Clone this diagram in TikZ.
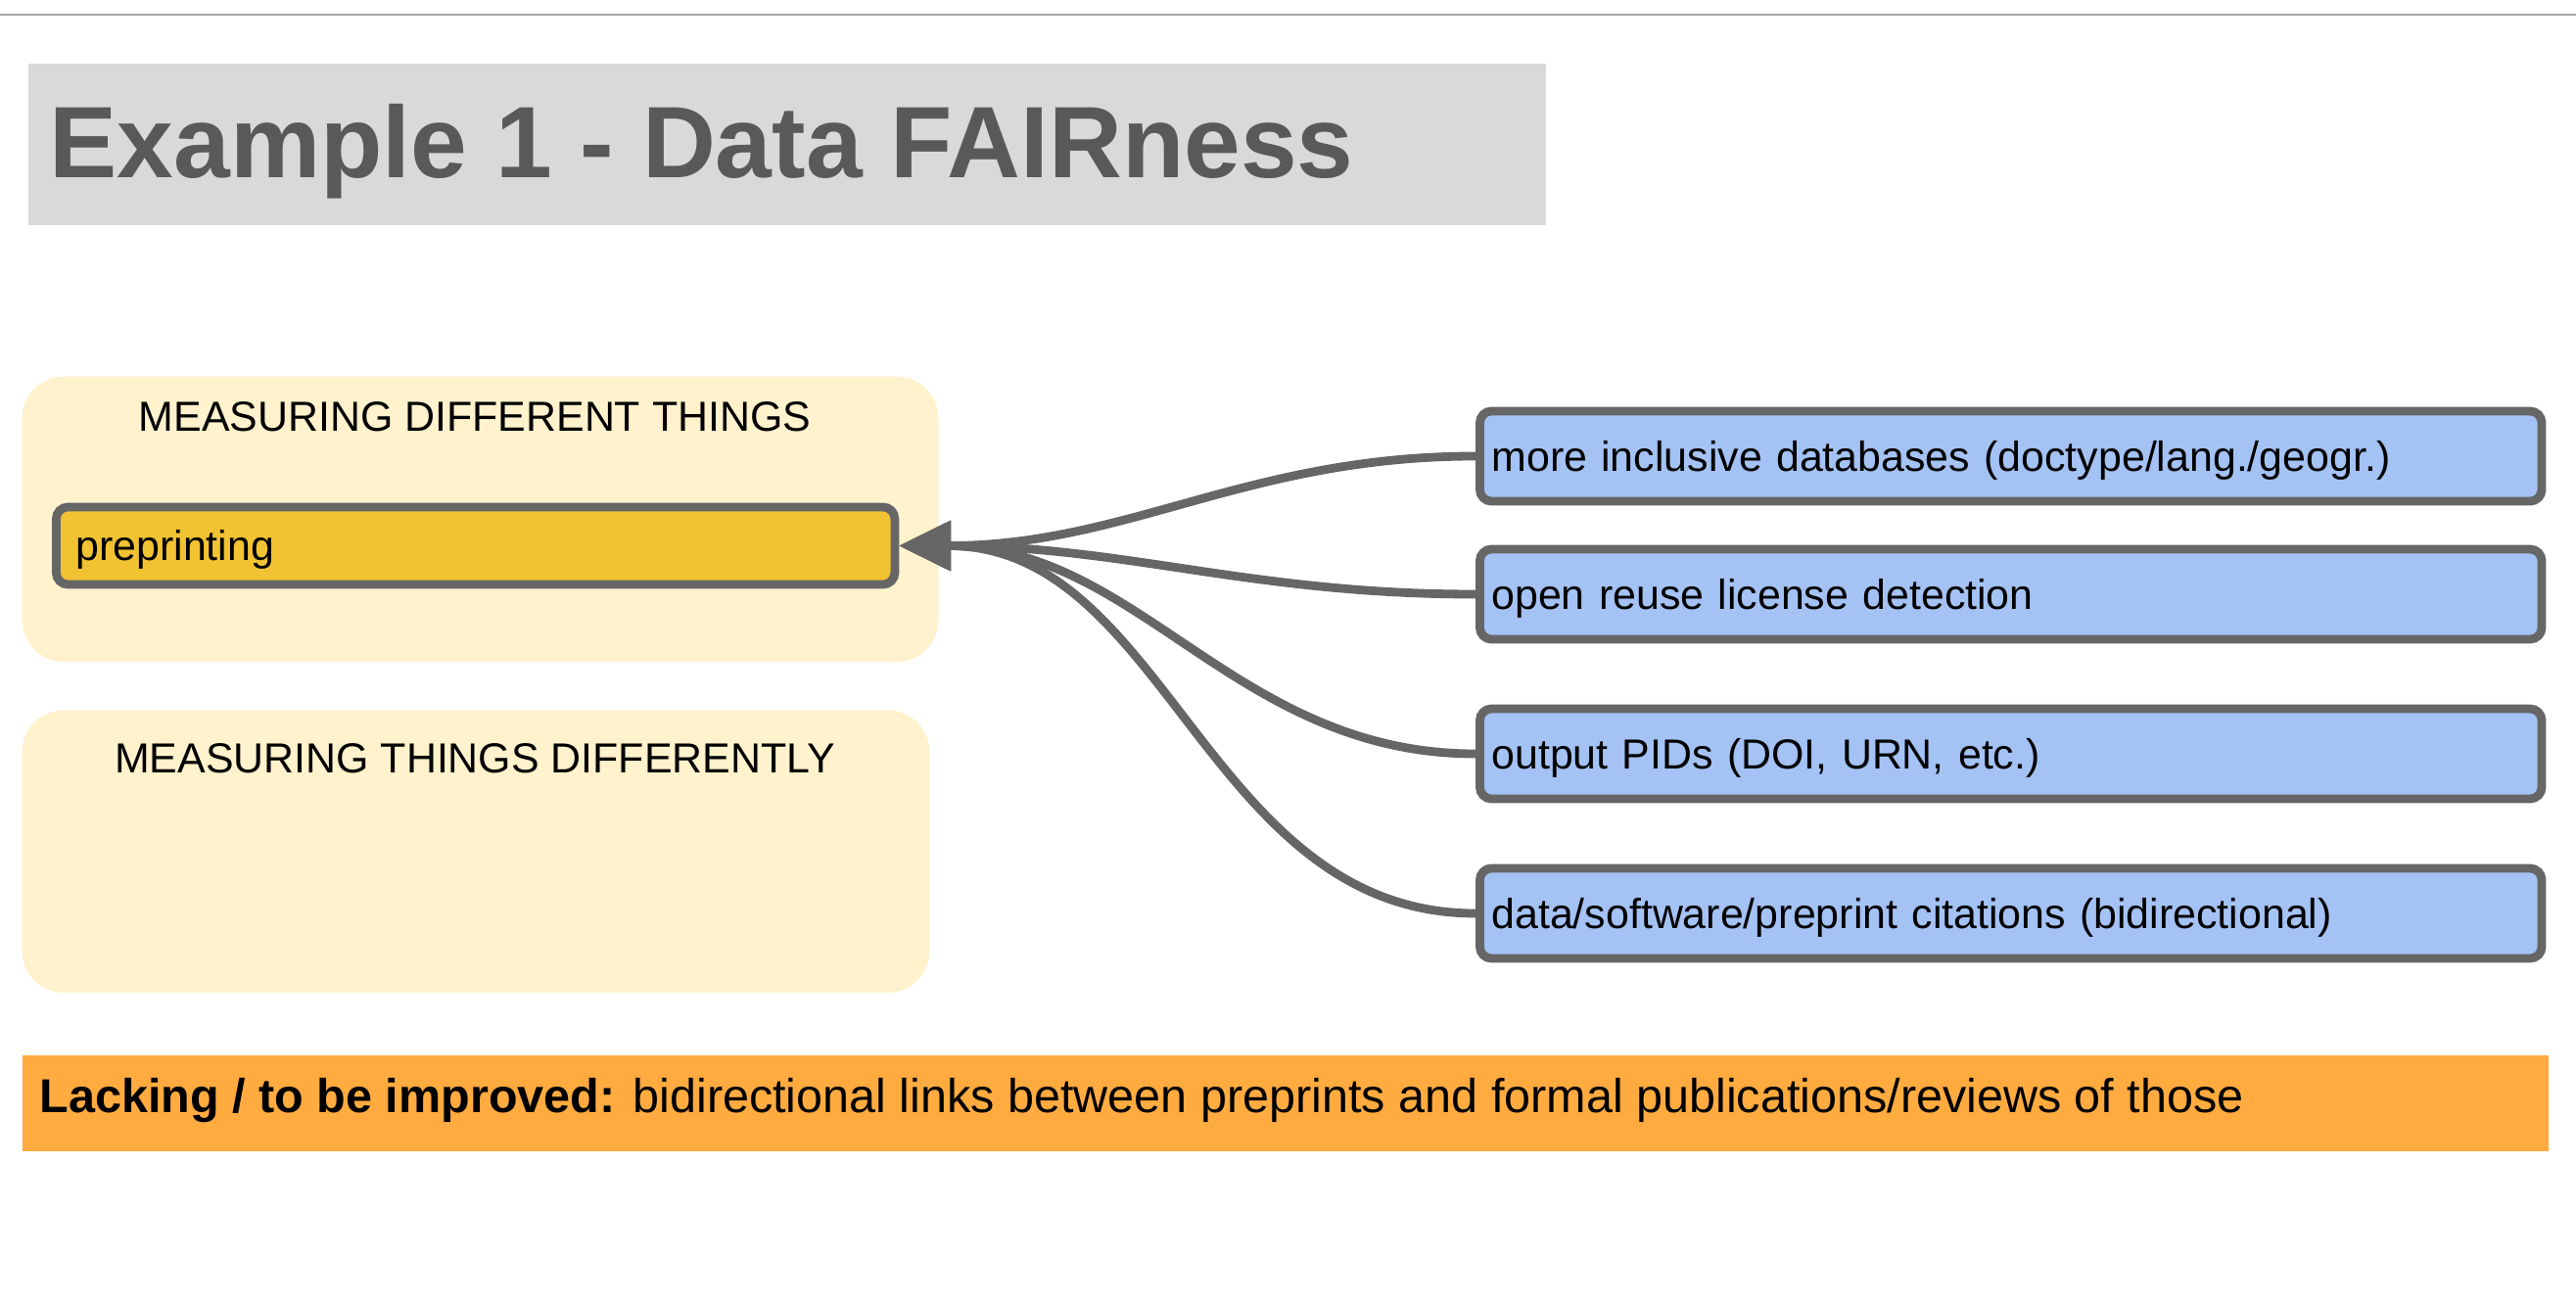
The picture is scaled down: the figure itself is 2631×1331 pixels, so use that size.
\documentclass[tikz,border=0pt]{standalone}
\usepackage{fontspec}
\setmainfont{Liberation Sans}
\usetikzlibrary{arrows.meta}
\definecolor{lineGray}{HTML}{666666}
\definecolor{titleBg}{HTML}{D9D9D9}
\definecolor{titleFg}{HTML}{595959}
\definecolor{grpBg}{HTML}{FFF2CC}
\definecolor{preFill}{HTML}{F1C232}
\definecolor{blueFill}{HTML}{A4C2F4}
\definecolor{barFill}{HTML}{FFAB40}
\definecolor{topLine}{HTML}{A6A6A6}
\tikzset{
  basefont/.style={font=\fontsize{12.2}{14}\selectfont},
  titlebox/.style={fill=titleBg, draw=none, inner sep=0pt},
  titletext/.style={text=titleFg, inner sep=0pt, font=\fontsize{29.5}{34}\selectfont\bfseries},
  grpbox/.style={fill=grpBg, draw=none, rounded corners=0.42cm, inner sep=0pt},
  grptitle/.style={basefont, inner sep=0pt},
  prebox/.style={basefont, fill=preFill, draw=lineGray, line width=2.5pt, rounded corners=0.12cm,
    minimum width=8.56cm, minimum height=0.79cm, inner xsep=0.2cm, text width=8.16cm, align=left,
    text height=0.88em, text depth=0em},
  bluebox/.style={basefont, fill=blueFill, draw=lineGray, line width=2.5pt, rounded corners=0.12cm,
    minimum width=10.84cm, minimum height=0.92cm, inner xsep=0.12cm, text width=10.6cm, align=left,
    text height=0.88em, text depth=0em, anchor=west},
  barbox/.style={fill=barFill, draw=none, inner sep=0pt},
  bartext/.style={font=\fontsize{13.8}{16}\selectfont, inner sep=0pt},
  conn/.style={draw=lineGray, line width=2.5pt, -{Triangle[length=15pt,width=14pt]}, fill=none}
}
\begin{document}
\begin{tikzpicture}[x=0.01cm,y=-0.01cm]
\useasboundingbox (0,0) rectangle (2631,1331);
\fill[white] (0,0) rectangle (2631,1331);
% top rule
\draw[topLine, line width=0.8pt] (0,15) -- (2631,15);
% title
\node[titlebox, minimum width=15.49cm, minimum height=1.65cm, anchor=north west] (titlebg) at (28,64) {};
\node[titletext, anchor=base west] (titletxt) at (50,182) {Example 1 - Data FAIRness};
% groups
\node[grpbox, minimum width=9.35cm, minimum height=2.91cm, anchor=north west] (grpA) at (22,384) {};
\node[grpbox, minimum width=9.26cm, minimum height=2.88cm, anchor=north west] (grpB) at (22,725) {};
\node[grptitle] (tA) at (485,426) {MEASURING DIFFERENT THINGS};
\node[grptitle] (tB) at (485,775) {MEASURING THINGS DIFFERENTLY};
% preprinting
\node[prebox, anchor=west] (pre) at (53,557.5) {preprinting};
% right boxes
\node[bluebox] (b1) at (1507,466) {more inclusive databases (doctype/lang./geogr.)};
\node[bluebox] (b2) at (1507,607) {open reuse license detection};
\node[bluebox] (b3) at (1507,770) {output PIDs (DOI, URN, etc.)};
\node[bluebox] (b4) at (1507,933) {data/software/preprint citations (bidirectional)};
% connectors
\draw[conn] (b1.west) to[out=180,in=0] (pre.east);
\draw[conn] (b2.west) to[out=180,in=0] (pre.east);
\draw[conn] (b3.west) to[out=180,in=0] (pre.east);
\draw[conn] (b4.west) to[out=180,in=0] (pre.east);
% bottom bar
\node[barbox, minimum width=25.79cm, minimum height=0.98cm, anchor=north west] (bar) at (22,1077) {};
\node[bartext, anchor=base west] (bartxt) at (40,1136) {\textbf{Lacking / to be improved:} bidirectional links between preprints and formal publications/reviews of those};
\end{tikzpicture}
\end{document}
